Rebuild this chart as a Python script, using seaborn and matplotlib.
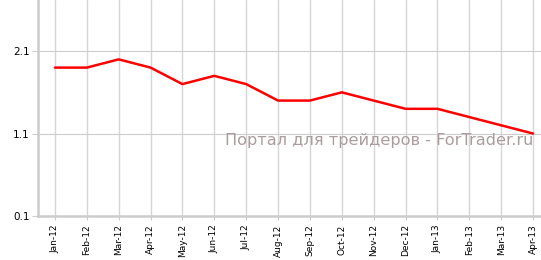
import matplotlib
matplotlib.use("Agg")
import matplotlib.pyplot as plt
import seaborn as sns
import pandas as pd

months = ["Jan-12", "Feb-12", "Mar-12", "Apr-12", "May-12", "Jun-12", "Jul-12", "Aug-12",
          "Sep-12", "Oct-12", "Nov-12", "Dec-12", "Jan-13", "Feb-13", "Mar-13", "Apr-13"]
values = [1.9, 1.9, 2.0, 1.9, 1.7, 1.8, 1.7, 1.5, 1.5, 1.6, 1.5, 1.4, 1.4, 1.3, 1.2, 1.1]
y_ticks = [0.1, 1.1, 2.1]
watermark = "Портал для трейдеров - ForTrader.ru"

sns.set_theme(style="white")
plt.rcParams['font.family'] = ['DejaVu Sans']

df = pd.DataFrame({"idx": range(len(months)), "value": values})

fig = plt.figure(figsize=(5.41, 2.60), dpi=100)
ax = fig.add_axes([38/541, 44/260, (541-38)/541, 216/260])

sns.lineplot(data=df, x="idx", y="value", ax=ax, color="#ff0000", linewidth=1.8, sort=False)

ax.set_xlim(-0.53, 15.25)
ax.set_ylim(0.1, 2.72)
ax.set_xticks(range(len(months)))
ax.set_xticklabels(months, rotation=90, fontsize=6.5, color="#000000")
ax.set_yticks(y_ticks)
ax.set_yticklabels([str(t) for t in y_ticks], fontsize=7.5, color="#000000")
ax.set_xlabel("")
ax.set_ylabel("")

ax.grid(True, axis="x", color="#d6d6d6", linewidth=1.0)
ax.grid(True, axis="y", color="#cccccc", linewidth=0.8)
ax.set_axisbelow(True)

for s in ["top", "right"]:
    ax.spines[s].set_visible(False)
for s in ["left", "bottom"]:
    ax.spines[s].set_color("#cccccc")
    ax.spines[s].set_linewidth(1.8)

ax.tick_params(axis="y", which="major", length=4, width=0.8, color="#cccccc", pad=2, left=True)
ax.tick_params(axis="x", which="major", length=3, width=0.8, color="#cccccc", pad=3, bottom=True)

fig.text(533/541, (260-140)/260, watermark, ha="right", va="center",
         fontsize=11.6, color="#ab9d9d")

fig.savefig("out.png", dpi=100)
